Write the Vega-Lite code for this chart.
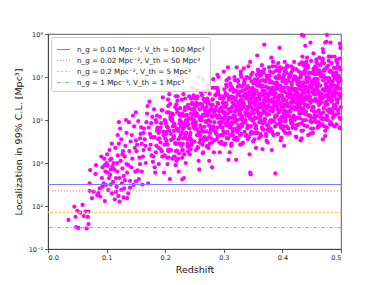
{
"$schema":"https://vega.github.io/schema/vega-lite/v6.json",
"width":293,"height":215,
"autosize":{"type":"none"},
"padding":{"left":48,"top":34,"right":38,"bottom":36},
"background":"white",
"config":{
"font":"DejaVu Sans",
"view":{"stroke":"#333","strokeWidth":0.8},
"axis":{"grid":false,"domainColor":"#333","domainWidth":0.8,"tickColor":"#333","tickWidth":0.8,"tickSize":3.5,"labelFontSize":6.5,"labelColor":"#222","titleFontSize":9.5,"titleFontWeight":"normal","titleColor":"#111","labelPadding":2},
"legend":{"orient":"top-left","offset":2.5,"padding":5,"fillColor":"rgba(255,255,255,0.85)","strokeColor":"#ccc","cornerRadius":2,"labelFontSize":7.2,"labelColor":"#222","symbolType":"stroke","symbolStrokeWidth":1.2,"symbolSize":169,"rowPadding":0,"labelOffset":6,"labelLimit":400}
},
"datasets":{
"lines":[
{"label":"n_g = 0.01 Mpc⁻³, V_th = 100 Mpc³","v":100},
{"label":"n_g = 0.02 Mpc⁻³, V_th = 50 Mpc³","v":50},
{"label":"n_g = 0.2 Mpc⁻³, V_th = 5 Mpc³","v":5},
{"label":"n_g = 1 Mpc⁻³, V_th = 1 Mpc³","v":1}
],
"pts":[
{"z":0.035,"v":2.24},{"z":0.045,"v":9.3},{"z":0.050,"v":5.9},{"z":0.047,"v":3.16},{"z":0.048,"v":1.05},{"z":0.052,"v":0.95},{"z":0.055,"v":4.9},{"z":0.059,"v":11.2},{"z":0.061,"v":3.4},{"z":0.064,"v":5.5},{"z":0.066,"v":0.91},{"z":0.069,"v":1.45},{"z":0.068,"v":3.1},{"z":0.069,"v":5.5},{"z":0.072,"v":468},{"z":0.071,"v":112},{"z":0.071,"v":51},{"z":0.075,"v":23},{"z":0.078,"v":47},{"z":0.082,"v":794},{"z":0.081,"v":309},{"z":0.084,"v":32},{"z":0.086,"v":40},{"z":0.088,"v":66},{"z":0.089,"v":27.5},{"z":0.095,"v":112},{"z":0.097,"v":17},{"z":0.098,"v":398},{"z":0.099,"v":95},{"z":0.100,"v":977},{"z":0.102,"v":741},{"z":0.103,"v":55},{"z":0.104,"v":200},{"z":0.109,"v":39},{"z":0.111,"v":132},{"z":0.114,"v":20.4},{"z":0.117,"v":78},{"z":0.120,"v":29.5},{"z":0.122,"v":15.8},{"z":0.126,"v":112},{"z":0.129,"v":25},{"z":0.130,"v":66},{"z":0.135,"v":23},{"z":0.137,"v":39},{"z":0.140,"v":148},{"z":0.146,"v":95},{"z":0.150,"v":141},
{"z":0.091,"v":2000},{"z":0.093,"v":631},{"z":0.096,"v":1585},{"z":0.092,"v":200},
{"z":0.105,"v":3981},{"z":0.107,"v":501},{"z":0.101,"v":2512},{"z":0.108,"v":1585},{"z":0.106,"v":282},{"z":0.109,"v":7943},
{"z":0.112,"v":1000},{"z":0.115,"v":5012},{"z":0.118,"v":398},{"z":0.119,"v":19953},{"z":0.119,"v":2239},{"z":0.116,"v":200},{"z":0.121,"v":79433},
{"z":0.121,"v":7943},{"z":0.124,"v":1259},{"z":0.127,"v":562},{"z":0.123,"v":39811},{"z":0.128,"v":3548},{"z":0.125,"v":12589},{"z":0.129,"v":251},
{"z":0.131,"v":1995},{"z":0.134,"v":25119},{"z":0.137,"v":794},{"z":0.132,"v":6310},{"z":0.138,"v":79433},{"z":0.135,"v":355},{"z":0.139,"v":3548},{"z":0.133,"v":100000},
{"z":0.141,"v":10000},{"z":0.144,"v":1585},{"z":0.147,"v":50119},{"z":0.142,"v":631},{"z":0.148,"v":5012},{"z":0.145,"v":158000},{"z":0.143,"v":20000},{"z":0.149,"v":398},
{"z":0.097,"v":794},{"z":0.106,"v":1413},{"z":0.113,"v":501},{"z":0.118,"v":1000},{"z":0.122,"v":200},{"z":0.127,"v":2512},{"z":0.131,"v":158},{"z":0.134,"v":891},{"z":0.102,"v":355},{"z":0.110,"v":708},{"z":0.093,"v":79},{"z":0.107,"v":100},{"z":0.125,"v":56},{"z":0.140,"v":71},{"z":0.116,"v":45},
{"z":0.150,"v":1.12e4},{"z":0.157,"v":890},{"z":0.154,"v":8.9e4},{"z":0.151,"v":3550},{"z":0.158,"v":2.24e4},{"z":0.155,"v":178},{"z":0.152,"v":7100},{"z":0.159,"v":4.5e4},{"z":0.156,"v":1780},{"z":0.153,"v":450},{"z":0.150,"v":2.24e5},{"z":0.157,"v":1.41e4},
{"z":0.163,"v":3980},{"z":0.160,"v":7940},{"z":0.167,"v":1000},{"z":0.164,"v":3.98e4},{"z":0.161,"v":100},{"z":0.168,"v":7.94e4},{"z":0.165,"v":1.26e4},{"z":0.162,"v":2000},{"z":0.169,"v":2e5},{"z":0.166,"v":6310},{"z":0.163,"v":2.51e4},{"z":0.160,"v":398},
{"z":0.176,"v":7.08e4},{"z":0.173,"v":4470},{"z":0.170,"v":4.47e5},{"z":0.177,"v":2240},{"z":0.174,"v":2.24e4},{"z":0.171,"v":112},{"z":0.178,"v":1.41e5},{"z":0.175,"v":7080},{"z":0.172,"v":4.47e4},{"z":0.179,"v":1120},{"z":0.176,"v":1.58e4},{"z":0.173,"v":7.08e5},
{"z":0.189,"v":5010},{"z":0.186,"v":3.16e4},{"z":0.183,"v":355},{"z":0.180,"v":1.58e4},{"z":0.187,"v":3.98e4},{"z":0.184,"v":3160},{"z":0.181,"v":3.16e5},{"z":0.188,"v":1.26e4},{"z":0.185,"v":7.94e4},{"z":0.182,"v":631},{"z":0.189,"v":2.51e4},{"z":0.186,"v":1.58e5},
{"z":0.192,"v":8910},{"z":0.199,"v":2240},{"z":0.196,"v":1.12e6},{"z":0.193,"v":7.08e4},{"z":0.190,"v":1.41e4},{"z":0.197,"v":2.82e4},{"z":0.194,"v":3550},{"z":0.191,"v":1.41e5},{"z":0.198,"v":355},{"z":0.195,"v":2.82e5},{"z":0.192,"v":4.47e4},{"z":0.199,"v":7080},
{"z":0.205,"v":8.91e5},{"z":0.202,"v":2.82e4},{"z":0.209,"v":1.12e5},{"z":0.206,"v":1780},{"z":0.203,"v":2.24e5},{"z":0.200,"v":1.41e4},{"z":0.207,"v":1.58e6},{"z":0.204,"v":7080},{"z":0.201,"v":7.08e4},{"z":0.208,"v":178},{"z":0.205,"v":4.47e5},{"z":0.202,"v":2.24e4},{"z":0.209,"v":1.41e5},{"z":0.206,"v":3550},{"z":0.203,"v":5.01e4},
{"z":0.218,"v":1.26e6},{"z":0.215,"v":1.78e4},{"z":0.212,"v":1.12e5},{"z":0.219,"v":1260},{"z":0.216,"v":5.62e4},{"z":0.213,"v":5.01e4},{"z":0.210,"v":3980},{"z":0.217,"v":3.98e5},{"z":0.214,"v":1.58e4},{"z":0.211,"v":1e5},{"z":0.218,"v":794},{"z":0.215,"v":3.16e4},{"z":0.212,"v":2e5},{"z":0.219,"v":7940},{"z":0.216,"v":2000},
{"z":0.221,"v":1.26e6},{"z":0.228,"v":7.94e4},{"z":0.225,"v":1.58e4},{"z":0.222,"v":3.16e4},{"z":0.229,"v":3980},{"z":0.226,"v":1.58e5},{"z":0.223,"v":398},{"z":0.220,"v":3.16e5},{"z":0.227,"v":5.01e4},{"z":0.224,"v":7940},{"z":0.221,"v":7.94e5},{"z":0.228,"v":2.51e4},{"z":0.225,"v":1e5},{"z":0.222,"v":1580},{"z":0.229,"v":2e5},
{"z":0.234,"v":1.58e4},{"z":0.231,"v":1.58e6},{"z":0.238,"v":7940},{"z":0.235,"v":7.94e4},{"z":0.232,"v":200},{"z":0.239,"v":5.01e5},{"z":0.236,"v":2.51e4},{"z":0.233,"v":1.58e5},{"z":0.230,"v":3980},{"z":0.237,"v":5.62e4},{"z":0.234,"v":1e6},{"z":0.231,"v":1.41e4},{"z":0.238,"v":8.91e4},{"z":0.235,"v":1000},{"z":0.232,"v":4.47e4},
{"z":0.247,"v":1.58e5},{"z":0.244,"v":1.26e4},{"z":0.241,"v":1.26e6},{"z":0.248,"v":5.01e4},{"z":0.245,"v":3.16e5},{"z":0.242,"v":2510},{"z":0.249,"v":1e5},{"z":0.246,"v":6.31e5},{"z":0.243,"v":2.51e4},{"z":0.240,"v":6310},{"z":0.247,"v":3.16e6},{"z":0.244,"v":2e5},{"z":0.241,"v":3.98e4},{"z":0.248,"v":7.94e4},{"z":0.245,"v":1e4},
{"z":0.250,"v":5.01e5},{"z":0.257,"v":1260},{"z":0.254,"v":1e6},{"z":0.251,"v":1.58e5},{"z":0.258,"v":2.51e4},{"z":0.255,"v":2.51e6},{"z":0.252,"v":7.94e4},{"z":0.259,"v":3.16e5},{"z":0.256,"v":5010},{"z":0.253,"v":6.31e5},{"z":0.250,"v":3.98e4},{"z":0.257,"v":1e7},{"z":0.254,"v":2e4},{"z":0.251,"v":2e5},{"z":0.258,"v":501},{"z":0.255,"v":1.26e6},{"z":0.252,"v":6.31e4},
{"z":0.263,"v":5.01e5},{"z":0.260,"v":1.26e4},{"z":0.267,"v":1.78e5},{"z":0.264,"v":7.94e6},{"z":0.261,"v":4.47e4},{"z":0.268,"v":2.82e5},{"z":0.265,"v":3160},{"z":0.262,"v":1.41e5},{"z":0.269,"v":1.58e5},{"z":0.266,"v":1.41e4},{"z":0.263,"v":1.41e6},{"z":0.260,"v":5.62e4},{"z":0.267,"v":3.55e5},{"z":0.264,"v":2820},{"z":0.261,"v":1.12e5},{"z":0.268,"v":7.08e5},{"z":0.265,"v":2.82e4},
{"z":0.276,"v":7940},{"z":0.273,"v":3.98e6},{"z":0.270,"v":2.51e5},{"z":0.277,"v":5.01e4},{"z":0.274,"v":1e5},{"z":0.271,"v":1.26e4},{"z":0.278,"v":5.01e5},{"z":0.275,"v":1260},{"z":0.272,"v":1e6},{"z":0.279,"v":1.58e5},{"z":0.276,"v":2.51e4},{"z":0.273,"v":2.51e6},{"z":0.270,"v":7.94e4},{"z":0.277,"v":3.16e5},{"z":0.274,"v":5010},{"z":0.271,"v":6.31e5},{"z":0.278,"v":3.98e4},
{"z":0.289,"v":1.26e7},{"z":0.286,"v":2.51e4},{"z":0.283,"v":2.51e5},{"z":0.280,"v":631},{"z":0.287,"v":1.58e6},{"z":0.284,"v":7.94e4},{"z":0.281,"v":5.01e5},{"z":0.288,"v":1.26e4},{"z":0.285,"v":1.78e5},{"z":0.282,"v":7.94e6},{"z":0.289,"v":4.47e4},{"z":0.286,"v":2.82e5},{"z":0.283,"v":3160},{"z":0.280,"v":1.41e5},{"z":0.287,"v":3.98e5},{"z":0.284,"v":3.16e4},{"z":0.281,"v":3.16e6},
{"z":0.292,"v":1.58e5},{"z":0.299,"v":1e6},{"z":0.296,"v":7940},{"z":0.293,"v":3.16e5},{"z":0.290,"v":2e6},{"z":0.297,"v":7.94e4},{"z":0.294,"v":2e4},{"z":0.291,"v":1e7},{"z":0.298,"v":6.31e5},{"z":0.295,"v":1.26e5},{"z":0.292,"v":2.51e5},{"z":0.299,"v":3.16e4},{"z":0.296,"v":1.26e6},{"z":0.293,"v":3160},{"z":0.290,"v":2.51e6},{"z":0.297,"v":3.98e5},{"z":0.294,"v":6.31e4},
{"z":0.305,"v":7.08e6},{"z":0.302,"v":2.24e5},{"z":0.309,"v":8.91e5},{"z":0.306,"v":1.41e4},{"z":0.303,"v":1.78e6},{"z":0.300,"v":1.12e5},{"z":0.307,"v":2.82e7},{"z":0.304,"v":5.62e4},{"z":0.301,"v":5.62e5},{"z":0.308,"v":1410},{"z":0.305,"v":3.55e6},{"z":0.302,"v":1.78e5},{"z":0.309,"v":1.12e6},{"z":0.306,"v":2.82e4},{"z":0.303,"v":3.98e5},{"z":0.300,"v":1.78e7},{"z":0.307,"v":1e5},{"z":0.304,"v":6.31e5},{"z":0.301,"v":7080},{"z":0.308,"v":3.16e5},
{"z":0.318,"v":5.01e5},{"z":0.315,"v":3.98e4},{"z":0.312,"v":3.98e6},{"z":0.319,"v":1.58e5},{"z":0.316,"v":1e6},{"z":0.313,"v":7940},{"z":0.310,"v":3.16e5},{"z":0.317,"v":2e6},{"z":0.314,"v":7.94e4},{"z":0.311,"v":2e4},{"z":0.318,"v":1e7},{"z":0.315,"v":6.31e5},{"z":0.312,"v":1.26e5},{"z":0.319,"v":2.51e5},{"z":0.316,"v":3.16e4},{"z":0.313,"v":1.26e6},{"z":0.310,"v":3160},{"z":0.317,"v":2.51e6},{"z":0.314,"v":3.98e5},{"z":0.311,"v":6.31e4},
{"z":0.321,"v":3.16e5},{"z":0.328,"v":7080},{"z":0.325,"v":6.31e5},{"z":0.322,"v":1e5},{"z":0.329,"v":1.78e7},{"z":0.326,"v":3.98e5},{"z":0.323,"v":2.82e4},{"z":0.320,"v":1.12e6},{"z":0.327,"v":1.78e5},{"z":0.324,"v":3.55e6},{"z":0.321,"v":1410},{"z":0.328,"v":5.62e5},{"z":0.325,"v":5.62e4},{"z":0.322,"v":2.82e7},{"z":0.329,"v":1.12e5},{"z":0.326,"v":1.78e6},{"z":0.323,"v":1.41e4},{"z":0.320,"v":8.91e5},{"z":0.327,"v":2.24e5},{"z":0.324,"v":7.08e6},
{"z":0.334,"v":1.26e6},{"z":0.337,"v":1e5},{"z":0.330,"v":1e7},{"z":0.333,"v":3.98e5},{"z":0.336,"v":2.51e6},{"z":0.339,"v":2e4},{"z":0.332,"v":7.94e5},{"z":0.335,"v":5.01e6},{"z":0.338,"v":2e5},{"z":0.331,"v":5.01e4},{"z":0.334,"v":2.51e7},{"z":0.337,"v":1.58e6},{"z":0.330,"v":3.16e5},{"z":0.333,"v":6.31e5},{"z":0.336,"v":7.94e4},{"z":0.339,"v":3.16e6},{"z":0.332,"v":7940},{"z":0.335,"v":6.31e6},{"z":0.338,"v":1e6},{"z":0.331,"v":1.58e5},
{"z":0.347,"v":6.31e6},{"z":0.340,"v":3.16e5},{"z":0.343,"v":2e6},{"z":0.346,"v":5.01e4},{"z":0.349,"v":7.08e5},{"z":0.342,"v":3.16e7},{"z":0.345,"v":1.78e5},{"z":0.348,"v":1.12e6},{"z":0.341,"v":1.26e4},{"z":0.344,"v":5.62e5},{"z":0.347,"v":1.26e7},{"z":0.340,"v":3.98e5},{"z":0.343,"v":1.58e6},{"z":0.346,"v":2.51e4},{"z":0.349,"v":3.16e6},{"z":0.342,"v":2e5},{"z":0.345,"v":5.01e7},{"z":0.348,"v":1e5},{"z":0.341,"v":1e6},{"z":0.344,"v":2510},
{"z":0.345,"v":355},{"z":0.346,"v":295},{"z":0.388,"v":330},{"z":0.229,"v":174},
{"z":0.351,"v":3.16e5},{"z":0.358,"v":3.98e6},{"z":0.355,"v":2.51e4},{"z":0.352,"v":1.58e6},{"z":0.359,"v":2e7},{"z":0.356,"v":1.26e5},{"z":0.353,"v":6.31e5},{"z":0.350,"v":1e4},{"z":0.357,"v":7.94e6},{"z":0.354,"v":1e6},{"z":0.351,"v":2e5},{"z":0.358,"v":5.01e6},{"z":0.355,"v":5010},{"z":0.352,"v":2.51e6},{"z":0.359,"v":3.98e5},{"z":0.356,"v":1.26e7},{"z":0.353,"v":6.31e4},{"z":0.350,"v":1.26e6},{"z":0.357,"v":1e8},{"z":0.354,"v":3.98e4},
{"z":0.366,"v":2.24e6},{"z":0.369,"v":5.62e5},{"z":0.362,"v":1.12e5},{"z":0.365,"v":3.55e7},{"z":0.368,"v":2.82e5},{"z":0.361,"v":8.91e5},{"z":0.364,"v":1.78e4},{"z":0.367,"v":7.08e6},{"z":0.360,"v":1.78e5},{"z":0.363,"v":3.55e6},{"z":0.366,"v":4470},{"z":0.369,"v":7.94e5},{"z":0.362,"v":1.12e7},{"z":0.365,"v":8.91e4},{"z":0.368,"v":1.58e6},{"z":0.361,"v":3.98e5},{"z":0.364,"v":1.78e7},{"z":0.367,"v":3.55e4},{"z":0.360,"v":1e6},{"z":0.363,"v":1.58e5},{"z":0.369,"v":3.2e8},
{"z":0.374,"v":1.78e5},{"z":0.371,"v":1.12e6},{"z":0.378,"v":7.08e6},{"z":0.375,"v":8910},{"z":0.372,"v":3.55e6},{"z":0.379,"v":8.91e4},{"z":0.376,"v":7.08e5},{"z":0.373,"v":3.55e5},{"z":0.370,"v":1.78e6},{"z":0.377,"v":2.82e7},{"z":0.374,"v":5.62e4},{"z":0.371,"v":2.24e5},{"z":0.378,"v":5.62e6},{"z":0.375,"v":8.91e5},{"z":0.372,"v":2.24e4},{"z":0.379,"v":2.82e6},{"z":0.376,"v":4.47e5},{"z":0.373,"v":1.12e7},{"z":0.370,"v":1.12e5},{"z":0.377,"v":1.41e6},
{"z":0.382,"v":8.91e5},{"z":0.385,"v":2e4},{"z":0.388,"v":1.78e6},{"z":0.381,"v":2.82e5},{"z":0.384,"v":5.01e7},{"z":0.387,"v":1.12e6},{"z":0.380,"v":7.94e4},{"z":0.383,"v":3.16e6},{"z":0.386,"v":5.01e5},{"z":0.389,"v":1e7},{"z":0.382,"v":3980},{"z":0.385,"v":1.58e6},{"z":0.388,"v":1.58e5},{"z":0.381,"v":7.94e7},{"z":0.384,"v":3.16e5},{"z":0.387,"v":5.01e6},{"z":0.380,"v":3.98e4},{"z":0.383,"v":2.51e6},{"z":0.386,"v":6.31e5},{"z":0.389,"v":2e7},
{"z":0.398,"v":8.91e4},{"z":0.395,"v":2.24e8},{"z":0.392,"v":2.82e6},{"z":0.399,"v":1.41e5},{"z":0.396,"v":2.82e7},{"z":0.393,"v":8.91e5},{"z":0.390,"v":5.62e6},{"z":0.397,"v":1.12e4},{"z":0.394,"v":1.12e7},{"z":0.391,"v":4.47e5},{"z":0.398,"v":2.24e6},{"z":0.395,"v":1.78e7},{"z":0.392,"v":2.24e4},{"z":0.399,"v":1.41e6},{"z":0.396,"v":2.82e5},{"z":0.393,"v":4.47e7},{"z":0.390,"v":3.55e6},{"z":0.397,"v":5.62e4},{"z":0.394,"v":8.91e6},{"z":0.391,"v":7.08e5},
{"z":0.403,"v":3.16e6},{"z":0.400,"v":7.94e5},{"z":0.407,"v":1.58e5},{"z":0.404,"v":5.01e7},{"z":0.401,"v":3.98e5},{"z":0.408,"v":1.26e6},{"z":0.405,"v":2.51e4},{"z":0.402,"v":1e7},{"z":0.409,"v":2.51e5},{"z":0.406,"v":5.01e6},{"z":0.403,"v":6310},{"z":0.400,"v":1.12e6},{"z":0.407,"v":1.58e7},{"z":0.404,"v":1.26e5},{"z":0.401,"v":2.24e6},{"z":0.408,"v":5.62e5},{"z":0.405,"v":2.51e7},{"z":0.402,"v":5.01e4},{"z":0.409,"v":1.41e6},{"z":0.406,"v":2.24e5},{"z":0.403,"v":5.01e5},{"z":0.400,"v":6.31e6},
{"z":0.415,"v":2.51e6},{"z":0.418,"v":7.94e5},{"z":0.411,"v":1.58e6},{"z":0.414,"v":1e5},{"z":0.417,"v":6.31e5},{"z":0.410,"v":6.31e6},{"z":0.413,"v":2e6},{"z":0.416,"v":1e6},{"z":0.419,"v":7.94e6},{"z":0.412,"v":2.51e5},{"z":0.415,"v":1.58e7},{"z":0.418,"v":1.26e5},{"z":0.411,"v":4.47e5},{"z":0.414,"v":1.41e6},{"z":0.417,"v":2e7},{"z":0.410,"v":3.98e4},{"z":0.413,"v":3.98e5},{"z":0.416,"v":3.16e6},{"z":0.419,"v":1.58e5},{"z":0.412,"v":1.26e7},{"z":0.415,"v":3.16e7},{"z":0.418,"v":6.31e4},
{"z":0.429,"v":2e5},{"z":0.426,"v":5.01e6},{"z":0.423,"v":1e7},{"z":0.420,"v":5.01e7},{"z":0.427,"v":1.26e6},{"z":0.424,"v":1.58e4},{"z":0.421,"v":3.16e5},{"z":0.428,"v":3.98e6},{"z":0.425,"v":5.01e5},{"z":0.422,"v":2.51e6},{"z":0.429,"v":7.94e5},{"z":0.426,"v":1.78e6},{"z":0.423,"v":2.82e6},{"z":0.420,"v":2.51e6},{"z":0.427,"v":7.94e5},{"z":0.424,"v":1.58e6},{"z":0.421,"v":1e5},{"z":0.428,"v":6.31e5},{"z":0.425,"v":6.31e6},{"z":0.422,"v":2e6},{"z":0.429,"v":1e6},{"z":0.426,"v":7.94e6},
{"z":0.431,"v":8.91e5},{"z":0.434,"v":4.47e6},{"z":0.437,"v":1.78e6},{"z":0.430,"v":2.82e6},{"z":0.433,"v":1.41e4},{"z":0.436,"v":3.55e7},{"z":0.439,"v":2.82e8},{"z":0.432,"v":1.41e6},{"z":0.435,"v":7.08e5},{"z":0.438,"v":1.78e7},{"z":0.431,"v":1.12e4},{"z":0.434,"v":2.24e5},{"z":0.437,"v":4.47e7},{"z":0.430,"v":3.98e5},{"z":0.433,"v":7.08e4},{"z":0.436,"v":3.55e5},{"z":0.439,"v":2.24e7},{"z":0.432,"v":1.41e7},{"z":0.435,"v":1.12e6},{"z":0.438,"v":3.55e6},{"z":0.431,"v":5.62e6},{"z":0.434,"v":8.91e7},{"z":0.433,"v":9e8},{"z":0.436,"v":8.5e8},
{"z":0.445,"v":1.58e7},{"z":0.442,"v":7.94e7},{"z":0.449,"v":3.98e4},{"z":0.446,"v":7.94e5},{"z":0.443,"v":1e7},{"z":0.440,"v":2.51e5},{"z":0.447,"v":1.58e5},{"z":0.444,"v":3.98e5},{"z":0.441,"v":3.16e6},{"z":0.448,"v":6.31e5},{"z":0.445,"v":2.82e6},{"z":0.442,"v":5.62e6},{"z":0.449,"v":1.26e5},{"z":0.446,"v":1.26e6},{"z":0.443,"v":6.31e6},{"z":0.440,"v":2.51e6},{"z":0.447,"v":3.98e6},{"z":0.444,"v":2e4},{"z":0.441,"v":5.01e7},{"z":0.448,"v":3.98e8},{"z":0.445,"v":2e6},{"z":0.442,"v":1e6},
{"z":0.458,"v":3.98e6},{"z":0.451,"v":1.58e7},{"z":0.454,"v":2.51e5},{"z":0.457,"v":1.58e6},{"z":0.450,"v":4.47e6},{"z":0.453,"v":1.26e8},{"z":0.456,"v":3.16e7},{"z":0.459,"v":1.58e5},{"z":0.452,"v":2.51e4},{"z":0.455,"v":1e5},{"z":0.458,"v":2.51e7},{"z":0.451,"v":4.47e6},{"z":0.454,"v":7.94e6},{"z":0.457,"v":5.01e6},{"z":0.450,"v":3.16e6},{"z":0.453,"v":7.94e5},{"z":0.456,"v":7.94e6},{"z":0.459,"v":2.24e6},{"z":0.452,"v":2.51e6},{"z":0.455,"v":2e6},{"z":0.458,"v":5.01e7},{"z":0.451,"v":3.98e5},
{"z":0.466,"v":1.26e6},{"z":0.463,"v":7.94e7},{"z":0.460,"v":2e7},{"z":0.467,"v":1.26e7},{"z":0.464,"v":1.41e6},{"z":0.461,"v":5.01e4},{"z":0.468,"v":6.31e4},{"z":0.465,"v":1e6},{"z":0.462,"v":5.01e5},{"z":0.469,"v":2e8},{"z":0.466,"v":2e5},{"z":0.463,"v":2e6},{"z":0.460,"v":7.94e6},{"z":0.467,"v":1.26e5},{"z":0.464,"v":7.94e5},{"z":0.461,"v":2.24e6},{"z":0.468,"v":6.31e7},{"z":0.465,"v":1.58e7},{"z":0.462,"v":7.94e4},{"z":0.469,"v":1.26e4},{"z":0.466,"v":5.62e4},{"z":0.463,"v":1.41e7},
{"z":0.473,"v":1.41e6},{"z":0.476,"v":4.47e4},{"z":0.479,"v":1.78e6},{"z":0.472,"v":2.24e6},{"z":0.475,"v":7.08e5},{"z":0.478,"v":1.58e6},{"z":0.471,"v":1.12e5},{"z":0.474,"v":4.47e6},{"z":0.477,"v":2.82e5},{"z":0.470,"v":1.41e8},{"z":0.473,"v":1.78e4},{"z":0.476,"v":1.41e5},{"z":0.479,"v":8.91e7},{"z":0.472,"v":2.24e7},{"z":0.475,"v":4.47e8},{"z":0.478,"v":3.55e6},{"z":0.471,"v":4.47e7},{"z":0.474,"v":6.31e5},{"z":0.477,"v":2.82e6},{"z":0.470,"v":1.12e7},{"z":0.473,"v":8.91e6},{"z":0.476,"v":2.82e7},{"z":0.476,"v":9e8},{"z":0.473,"v":4e8},
{"z":0.482,"v":2e7},{"z":0.489,"v":2.51e6},{"z":0.486,"v":1.58e7},{"z":0.483,"v":3.16e6},{"z":0.480,"v":8.91e6},{"z":0.487,"v":1.12e7},{"z":0.484,"v":1.58e6},{"z":0.481,"v":6.31e4},{"z":0.488,"v":5.01e5},{"z":0.485,"v":2e5},{"z":0.482,"v":1e6},{"z":0.489,"v":3.98e6},{"z":0.486,"v":1.26e5},{"z":0.483,"v":5.01e6},{"z":0.480,"v":6.31e6},{"z":0.487,"v":2e6},{"z":0.484,"v":4.47e6},{"z":0.481,"v":3.16e5},{"z":0.488,"v":1.26e7},{"z":0.485,"v":7.94e5},{"z":0.482,"v":3.98e8},{"z":0.489,"v":5.01e4},
{"z":0.499,"v":1.12e5},{"z":0.492,"v":1.78e6},{"z":0.495,"v":8.91e5},{"z":0.498,"v":3.55e8},{"z":0.491,"v":3.55e5},{"z":0.494,"v":7.08e6},{"z":0.497,"v":2.82e7},{"z":0.490,"v":4.47e5},{"z":0.493,"v":2.82e6},{"z":0.496,"v":7.94e6},{"z":0.499,"v":2.24e8},{"z":0.492,"v":5.62e7},{"z":0.495,"v":2.82e5},{"z":0.498,"v":4.47e4},{"z":0.491,"v":1.78e5},{"z":0.494,"v":4.47e7},{"z":0.497,"v":8.91e6},{"z":0.490,"v":1.41e7},{"z":0.493,"v":1e7},{"z":0.496,"v":5.62e6},{"z":0.499,"v":1.41e6},{"z":0.492,"v":1.58e7},
{"z":0.180,"v":2000},{"z":0.182,"v":1.58e4},{"z":0.184,"v":1e5},{"z":0.185,"v":6310},{"z":0.187,"v":4.47e4},{"z":0.189,"v":891},{"z":0.190,"v":3.55e4},{"z":0.192,"v":4470},{"z":0.194,"v":2.82e5},{"z":0.195,"v":2000},{"z":0.197,"v":2e4},{"z":0.199,"v":1e5},{"z":0.200,"v":9.1e4},{"z":0.202,"v":1.12e4},{"z":0.204,"v":891},{"z":0.205,"v":4070},{"z":0.207,"v":3.24e4},{"z":0.209,"v":2.04e5},{"z":0.210,"v":1.17e4},{"z":0.212,"v":9.3e4},{"z":0.214,"v":1860},{"z":0.215,"v":6.76e4},{"z":0.217,"v":8500},{"z":0.219,"v":5.37e5},{"z":0.220,"v":3800},{"z":0.222,"v":3.8e4},{"z":0.224,"v":1.9e5},{"z":0.225,"v":1.74e5},{"z":0.227,"v":2.19e4},{"z":0.229,"v":1740},{"z":0.230,"v":7760},{"z":0.232,"v":6.17e4},{"z":0.234,"v":3.89e5},{"z":0.235,"v":2.19e4},{"z":0.237,"v":1.74e5},{"z":0.239,"v":3470},{"z":0.240,"v":1.23e5},{"z":0.242,"v":1.55e4},{"z":0.244,"v":9.77e5},{"z":0.245,"v":6920},{"z":0.247,"v":6.92e4},{"z":0.249,"v":3.47e5},
{"z":0.250,"v":9770},{"z":0.252,"v":4.9e4},{"z":0.254,"v":1.95e5},{"z":0.251,"v":9.77e5},{"z":0.255,"v":5500},{"z":0.257,"v":2.75e4},{"z":0.259,"v":1.1e5},{"z":0.256,"v":5.5e5},{"z":0.260,"v":1.91e4},{"z":0.262,"v":9.55e4},{"z":0.264,"v":3.8e5},{"z":0.261,"v":1.91e6},{"z":0.265,"v":1.07e4},{"z":0.267,"v":4.79e4},{"z":0.269,"v":1.91e5},{"z":0.266,"v":9.55e5},{"z":0.270,"v":2.95e4},{"z":0.272,"v":1.66e5},{"z":0.274,"v":5.89e5},{"z":0.271,"v":5890},{"z":0.275,"v":1.66e4},{"z":0.277,"v":8.3e4},{"z":0.279,"v":3.31e5},{"z":0.276,"v":1.66e6},{"z":0.280,"v":9100},{"z":0.282,"v":4.57e4},{"z":0.284,"v":1.82e5},{"z":0.281,"v":9.1e5},{"z":0.285,"v":3.16e4},{"z":0.287,"v":1.58e5},{"z":0.289,"v":6.31e5},{"z":0.286,"v":3.16e6},{"z":0.290,"v":1.74e4},{"z":0.292,"v":7.76e4},{"z":0.294,"v":3.09e5},{"z":0.291,"v":1.55e6},{"z":0.295,"v":4.79e4},{"z":0.297,"v":2.69e5},{"z":0.299,"v":9.55e5},{"z":0.296,"v":9550},
{"z":0.300,"v":2.63e4},{"z":0.302,"v":1.32e5},{"z":0.304,"v":5.25e5},{"z":0.301,"v":2.63e6},{"z":0.305,"v":1.45e4},{"z":0.307,"v":7.24e4},{"z":0.309,"v":2.88e5},{"z":0.306,"v":1.45e6},{"z":0.310,"v":5.01e4},{"z":0.312,"v":2.51e5},{"z":0.314,"v":1e6},{"z":0.311,"v":5.01e6},{"z":0.315,"v":2.75e4},{"z":0.317,"v":1.23e5},{"z":0.319,"v":4.9e5},{"z":0.316,"v":2.45e6},{"z":0.320,"v":7.59e4},{"z":0.322,"v":4.27e5},{"z":0.324,"v":1.51e6},{"z":0.321,"v":1.51e4},{"z":0.325,"v":4.17e4},{"z":0.327,"v":2.09e5},{"z":0.329,"v":8.32e5},{"z":0.326,"v":4.17e6},{"z":0.330,"v":2.24e4},{"z":0.332,"v":1.12e5},{"z":0.334,"v":4.47e5},{"z":0.331,"v":2.24e6},{"z":0.335,"v":7.76e4},{"z":0.337,"v":3.89e5},{"z":0.339,"v":1.55e6},{"z":0.336,"v":7.76e6},{"z":0.340,"v":4.17e4},{"z":0.342,"v":1.86e5},{"z":0.344,"v":7.41e5},{"z":0.341,"v":3.72e6},{"z":0.345,"v":1.15e5},{"z":0.347,"v":6.46e5},{"z":0.349,"v":2.29e6},{"z":0.346,"v":2.29e4},
{"z":0.350,"v":2.45e4},{"z":0.352,"v":1.23e5},{"z":0.354,"v":4.9e5},{"z":0.351,"v":1.95e6},{"z":0.353,"v":7.76e6},{"z":0.355,"v":5.37e4},{"z":0.357,"v":2.69e5},{"z":0.359,"v":1.07e6},{"z":0.356,"v":4.27e6},{"z":0.358,"v":2.14e7},{"z":0.360,"v":1.45e4},{"z":0.362,"v":9.12e4},{"z":0.364,"v":4.07e5},{"z":0.361,"v":1.62e6},{"z":0.363,"v":6.46e6},{"z":0.365,"v":4.37e4},{"z":0.367,"v":2.19e5},{"z":0.369,"v":8.71e5},{"z":0.366,"v":3.47e6},{"z":0.368,"v":1.55e7},{"z":0.370,"v":7.59e4},{"z":0.372,"v":4.27e5},{"z":0.374,"v":1.7e6},{"z":0.371,"v":6.76e6},{"z":0.373,"v":1.07e4},{"z":0.375,"v":3.63e4},{"z":0.377,"v":1.82e5},{"z":0.379,"v":7.24e5},{"z":0.376,"v":2.88e6},{"z":0.378,"v":1.15e7},{"z":0.380,"v":7.76e4},{"z":0.382,"v":3.89e5},{"z":0.384,"v":1.55e6},{"z":0.381,"v":6.17e6},{"z":0.383,"v":3.09e7},{"z":0.385,"v":2.09e4},{"z":0.387,"v":1.32e5},{"z":0.389,"v":5.89e5},{"z":0.386,"v":2.34e6},{"z":0.388,"v":9.33e6},{"z":0.390,"v":6.31e4},{"z":0.392,"v":3.16e5},{"z":0.394,"v":1.26e6},{"z":0.391,"v":5.01e6},{"z":0.393,"v":2.24e7},{"z":0.395,"v":1.07e5},{"z":0.397,"v":6.03e5},{"z":0.399,"v":2.4e6},{"z":0.396,"v":9.55e6},{"z":0.398,"v":1.51e4},
{"z":0.400,"v":4.07e4},{"z":0.402,"v":2.04e5},{"z":0.404,"v":8.13e5},{"z":0.401,"v":3.24e6},{"z":0.403,"v":1.29e7},{"z":0.405,"v":8.71e4},{"z":0.407,"v":4.37e5},{"z":0.409,"v":1.74e6},{"z":0.406,"v":6.92e6},{"z":0.408,"v":3.47e7},{"z":0.410,"v":2.34e4},{"z":0.412,"v":1.48e5},{"z":0.414,"v":6.61e5},{"z":0.411,"v":2.63e6},{"z":0.413,"v":1.05e7},{"z":0.415,"v":7.08e4},{"z":0.417,"v":3.55e5},{"z":0.419,"v":1.41e6},{"z":0.416,"v":5.62e6},{"z":0.418,"v":2.51e7},{"z":0.420,"v":1.2e5},{"z":0.422,"v":6.76e5},{"z":0.424,"v":2.69e6},{"z":0.421,"v":1.07e7},{"z":0.423,"v":1.7e4},{"z":0.425,"v":5.75e4},{"z":0.427,"v":2.88e5},{"z":0.429,"v":1.15e6},{"z":0.426,"v":4.57e6},{"z":0.428,"v":1.82e7},{"z":0.430,"v":1.2e5},{"z":0.432,"v":6.03e5},{"z":0.434,"v":2.4e6},{"z":0.431,"v":9.55e6},{"z":0.433,"v":4.79e7},{"z":0.435,"v":3.24e4},{"z":0.437,"v":2.04e5},{"z":0.439,"v":9.12e5},{"z":0.436,"v":3.63e6},{"z":0.438,"v":1.45e7},{"z":0.440,"v":9.77e4},{"z":0.442,"v":4.9e5},{"z":0.444,"v":1.95e6},{"z":0.441,"v":7.76e6},{"z":0.443,"v":3.47e7},{"z":0.445,"v":1.66e5},{"z":0.447,"v":9.33e5},{"z":0.449,"v":3.72e6},{"z":0.446,"v":1.48e7},{"z":0.448,"v":2.34e4},
{"z":0.450,"v":7.76e4},{"z":0.452,"v":3.89e5},{"z":0.454,"v":1.55e6},{"z":0.451,"v":6.17e6},{"z":0.453,"v":2.45e7},{"z":0.455,"v":1.66e5},{"z":0.457,"v":8.32e5},{"z":0.459,"v":3.31e6},{"z":0.456,"v":1.32e7},{"z":0.458,"v":6.61e7},{"z":0.460,"v":4.47e4},{"z":0.462,"v":2.82e5},{"z":0.464,"v":1.26e6},{"z":0.461,"v":5.01e6},{"z":0.463,"v":2e7},{"z":0.465,"v":1.32e5},{"z":0.467,"v":6.61e5},{"z":0.469,"v":2.63e6},{"z":0.466,"v":1.05e7},{"z":0.468,"v":4.68e7},{"z":0.470,"v":2.24e5},{"z":0.472,"v":1.26e6},{"z":0.474,"v":5.01e6},{"z":0.471,"v":2e7},{"z":0.473,"v":3.16e4},{"z":0.475,"v":1.05e5},{"z":0.477,"v":5.25e5},{"z":0.479,"v":2.09e6},{"z":0.476,"v":8.32e6},{"z":0.478,"v":3.31e7},{"z":0.480,"v":2.24e5},{"z":0.482,"v":1.12e6},{"z":0.484,"v":4.47e6},{"z":0.481,"v":1.78e7},{"z":0.483,"v":8.91e7},{"z":0.485,"v":5.89e4},{"z":0.487,"v":3.72e5},{"z":0.489,"v":1.66e6},{"z":0.486,"v":6.61e6},{"z":0.488,"v":2.63e7},{"z":0.490,"v":1.78e5},{"z":0.492,"v":8.91e5},{"z":0.494,"v":3.55e6},{"z":0.491,"v":1.41e7},{"z":0.493,"v":6.31e7},{"z":0.495,"v":2.95e5},{"z":0.497,"v":1.66e6},{"z":0.499,"v":6.61e6},{"z":0.496,"v":2.63e7},{"z":0.498,"v":4.17e4},
{"z":0.2025,"v":7940},{"z":0.2045,"v":4.47e4},{"z":0.2055,"v":2.24e5},{"z":0.2035,"v":1780},{"z":0.2075,"v":3980},{"z":0.2095,"v":2.24e4},{"z":0.2105,"v":1e5},{"z":0.2085,"v":5.62e5},{"z":0.2125,"v":1580},{"z":0.2145,"v":1.41e4},{"z":0.2155,"v":6.31e4},{"z":0.2135,"v":1.78e5},{"z":0.2175,"v":7940},{"z":0.2195,"v":3.98e4},{"z":0.2205,"v":2.24e5},{"z":0.2185,"v":3550},{"z":0.2225,"v":1.26e4},{"z":0.2245,"v":7.08e4},{"z":0.2255,"v":3.55e5},{"z":0.2235,"v":2820},{"z":0.2275,"v":6310},{"z":0.2295,"v":3.55e4},{"z":0.2305,"v":1.58e5},{"z":0.2285,"v":8.91e5},{"z":0.2325,"v":2510},{"z":0.2345,"v":2.24e4},{"z":0.2355,"v":1e5},{"z":0.2335,"v":2.82e5},{"z":0.2375,"v":1.26e4},{"z":0.2395,"v":6.31e4},{"z":0.2405,"v":3.55e5},{"z":0.2385,"v":5620},{"z":0.2425,"v":2e4},{"z":0.2445,"v":1.12e5},{"z":0.2455,"v":5.62e5},{"z":0.2435,"v":4470},{"z":0.2475,"v":1e4},{"z":0.2495,"v":5.62e4},{"z":0.2505,"v":2.51e5},{"z":0.2485,"v":1.41e6},
{"z":0.2525,"v":3980},{"z":0.2545,"v":3.55e4},{"z":0.2555,"v":1.58e5},{"z":0.2535,"v":4.47e5},{"z":0.2575,"v":2e4},{"z":0.2595,"v":1e5},{"z":0.2605,"v":5.62e5},{"z":0.2585,"v":8910},{"z":0.2625,"v":3.16e4},{"z":0.2645,"v":1.78e5},{"z":0.2655,"v":8.91e5},{"z":0.2635,"v":7080},{"z":0.2675,"v":1.58e4},{"z":0.2695,"v":8.91e4},{"z":0.2705,"v":3.98e5},{"z":0.2685,"v":2.24e6},{"z":0.2725,"v":6310},{"z":0.2745,"v":5.62e4},{"z":0.2755,"v":2.51e5},{"z":0.2735,"v":7.08e5},{"z":0.2775,"v":3.16e4},{"z":0.2795,"v":1.58e5},{"z":0.2805,"v":8.91e5},{"z":0.2785,"v":1.41e4},{"z":0.2825,"v":5.01e4},{"z":0.2845,"v":2.82e5},{"z":0.2855,"v":1.41e6},{"z":0.2835,"v":1.12e4},{"z":0.2875,"v":2.24e4},{"z":0.2895,"v":1.26e5},{"z":0.2905,"v":5.62e5},{"z":0.2885,"v":3.16e6},{"z":0.2925,"v":8910},{"z":0.2945,"v":7.94e4},{"z":0.2955,"v":3.55e5},{"z":0.2935,"v":1e6},{"z":0.2975,"v":4.47e4},{"z":0.2995,"v":2.24e5},{"z":0.3005,"v":1.26e6},{"z":0.2985,"v":2e4},
{"z":0.3025,"v":7940},{"z":0.3055,"v":2.51e4},{"z":0.3035,"v":7.08e4},{"z":0.3065,"v":2e5},{"z":0.3045,"v":5.01e5},{"z":0.3060,"v":1.41e6},{"z":0.3040,"v":4.47e6},
{"z":0.3075,"v":1.41e4},{"z":0.3105,"v":4.47e4},{"z":0.3085,"v":1.26e5},{"z":0.3115,"v":3.16e5},{"z":0.3095,"v":8.91e5},{"z":0.3110,"v":2.51e6},{"z":0.3090,"v":8.91e6},
{"z":0.3125,"v":6310},{"z":0.3155,"v":2e4},{"z":0.3135,"v":6.31e4},{"z":0.3165,"v":1.58e5},{"z":0.3145,"v":3.98e5},{"z":0.3160,"v":1.12e6},{"z":0.3140,"v":3.16e6},
{"z":0.3175,"v":1.26e4},{"z":0.3205,"v":3.98e4},{"z":0.3185,"v":1.12e5},{"z":0.3215,"v":2.82e5},{"z":0.3195,"v":7.94e5},{"z":0.3210,"v":2.24e6},{"z":0.3190,"v":7.08e6},
{"z":0.3225,"v":1.12e4},{"z":0.3255,"v":3.55e4},{"z":0.3235,"v":1e5},{"z":0.3265,"v":2.82e5},{"z":0.3245,"v":7.08e5},{"z":0.3260,"v":2e6},{"z":0.3240,"v":6.31e6},
{"z":0.3275,"v":2e4},{"z":0.3305,"v":6.31e4},{"z":0.3285,"v":1.78e5},{"z":0.3315,"v":4.47e5},{"z":0.3295,"v":1.26e6},{"z":0.3310,"v":3.55e6},{"z":0.3290,"v":1.26e7},
{"z":0.3325,"v":8910},{"z":0.3355,"v":2.82e4},{"z":0.3335,"v":8.91e4},{"z":0.3365,"v":2.24e5},{"z":0.3345,"v":5.62e5},{"z":0.3360,"v":1.58e6},{"z":0.3340,"v":4.47e6},
{"z":0.3375,"v":1.78e4},{"z":0.3405,"v":5.62e4},{"z":0.3385,"v":1.58e5},{"z":0.3415,"v":3.98e5},{"z":0.3395,"v":1.12e6},{"z":0.3410,"v":3.16e6},{"z":0.3390,"v":1e7},
{"z":0.3425,"v":1.58e4},{"z":0.3455,"v":5.01e4},{"z":0.3435,"v":1.41e5},{"z":0.3465,"v":3.98e5},{"z":0.3445,"v":1e6},{"z":0.3460,"v":2.82e6},{"z":0.3440,"v":8.91e6},
{"z":0.3475,"v":2.82e4},{"z":0.3505,"v":8.91e4},{"z":0.3485,"v":2.51e5},{"z":0.3515,"v":6.31e5},{"z":0.3495,"v":1.58e6},{"z":0.3510,"v":5.01e6},{"z":0.3490,"v":1.58e7},
{"z":0.3525,"v":1.26e4},{"z":0.3555,"v":3.98e4},{"z":0.3535,"v":1.26e5},{"z":0.3565,"v":3.16e5},{"z":0.3545,"v":7.94e5},{"z":0.3560,"v":2.24e6},{"z":0.3540,"v":6.31e6},
{"z":0.3575,"v":2.51e4},{"z":0.3605,"v":7.94e4},{"z":0.3585,"v":2.24e5},{"z":0.3615,"v":5.62e5},{"z":0.3595,"v":1.58e6},{"z":0.3610,"v":4.47e6},{"z":0.3590,"v":1.41e7},
{"z":0.3625,"v":2.24e4},{"z":0.3655,"v":7.08e4},{"z":0.3635,"v":2e5},{"z":0.3665,"v":5.62e5},{"z":0.3645,"v":1.41e6},{"z":0.3660,"v":3.98e6},{"z":0.3640,"v":1.26e7},
{"z":0.3675,"v":3.55e4},{"z":0.3705,"v":1.12e5},{"z":0.3685,"v":3.16e5},{"z":0.3715,"v":7.94e5},{"z":0.3695,"v":2.24e6},{"z":0.3710,"v":6.31e6},{"z":0.3690,"v":2.24e7},
{"z":0.3725,"v":1.78e4},{"z":0.3755,"v":5.62e4},{"z":0.3735,"v":1.78e5},{"z":0.3765,"v":4.47e5},{"z":0.3745,"v":1.12e6},{"z":0.3760,"v":3.16e6},{"z":0.3740,"v":8.91e6},
{"z":0.3775,"v":3.16e4},{"z":0.3805,"v":1e5},{"z":0.3785,"v":2.82e5},{"z":0.3815,"v":7.08e5},{"z":0.3795,"v":2e6},{"z":0.3810,"v":5.62e6},{"z":0.3790,"v":1.78e7},
{"z":0.3825,"v":2.82e4},{"z":0.3855,"v":8.91e4},{"z":0.3835,"v":2.51e5},{"z":0.3865,"v":7.08e5},{"z":0.3845,"v":1.78e6},{"z":0.3860,"v":5.01e6},{"z":0.3840,"v":1.58e7},
{"z":0.3875,"v":5.01e4},{"z":0.3905,"v":1.58e5},{"z":0.3885,"v":4.47e5},{"z":0.3915,"v":1.12e6},{"z":0.3895,"v":3.16e6},{"z":0.3910,"v":8.91e6},{"z":0.3890,"v":3.16e7},
{"z":0.3925,"v":2.24e4},{"z":0.3955,"v":7.08e4},{"z":0.3935,"v":2.24e5},{"z":0.3965,"v":5.62e5},{"z":0.3945,"v":1.41e6},{"z":0.3960,"v":3.98e6},{"z":0.3940,"v":1.12e7},
{"z":0.3975,"v":4.47e4},{"z":0.4005,"v":1.41e5},{"z":0.3985,"v":3.98e5},{"z":0.4015,"v":1e6},{"z":0.3995,"v":2.82e6},{"z":0.4010,"v":7.94e6},{"z":0.3990,"v":2.51e7},
{"z":0.4025,"v":3.16e4},{"z":0.4055,"v":1e5},{"z":0.4035,"v":2.82e5},{"z":0.4065,"v":7.94e5},{"z":0.4045,"v":2e6},{"z":0.4060,"v":5.62e6},{"z":0.4040,"v":1.78e7},
{"z":0.4075,"v":5.01e4},{"z":0.4105,"v":1.58e5},{"z":0.4085,"v":4.47e5},{"z":0.4115,"v":1.12e6},{"z":0.4095,"v":3.16e6},{"z":0.4110,"v":8.91e6},{"z":0.4090,"v":3.16e7},
{"z":0.4125,"v":2.51e4},{"z":0.4155,"v":7.94e4},{"z":0.4135,"v":2.51e5},{"z":0.4165,"v":6.31e5},{"z":0.4145,"v":1.58e6},{"z":0.4160,"v":4.47e6},{"z":0.4140,"v":1.26e7},
{"z":0.4175,"v":4.47e4},{"z":0.4205,"v":1.41e5},{"z":0.4185,"v":3.98e5},{"z":0.4215,"v":1e6},{"z":0.4195,"v":2.82e6},{"z":0.4210,"v":7.94e6},{"z":0.4190,"v":2.51e7},
{"z":0.4225,"v":3.98e4},{"z":0.4255,"v":1.26e5},{"z":0.4235,"v":3.55e5},{"z":0.4265,"v":1e6},{"z":0.4245,"v":2.51e6},{"z":0.4260,"v":7.08e6},{"z":0.4240,"v":2.24e7},
{"z":0.4275,"v":6.31e4},{"z":0.4305,"v":2e5},{"z":0.4285,"v":5.62e5},{"z":0.4315,"v":1.41e6},{"z":0.4295,"v":3.98e6},{"z":0.4310,"v":1.12e7},{"z":0.4290,"v":3.98e7},
{"z":0.4325,"v":3.16e4},{"z":0.4355,"v":1e5},{"z":0.4335,"v":3.16e5},{"z":0.4365,"v":7.94e5},{"z":0.4345,"v":2e6},{"z":0.4360,"v":5.62e6},{"z":0.4340,"v":1.58e7},
{"z":0.4375,"v":5.62e4},{"z":0.4405,"v":1.78e5},{"z":0.4385,"v":5.01e5},{"z":0.4415,"v":1.26e6},{"z":0.4395,"v":3.55e6},{"z":0.4410,"v":1e7},{"z":0.4390,"v":3.16e7},
{"z":0.4425,"v":5.01e4},{"z":0.4455,"v":1.58e5},{"z":0.4435,"v":4.47e5},{"z":0.4465,"v":1.26e6},{"z":0.4445,"v":3.16e6},{"z":0.4460,"v":8.91e6},{"z":0.4440,"v":2.82e7},
{"z":0.4475,"v":8.91e4},{"z":0.4505,"v":2.82e5},{"z":0.4485,"v":7.94e5},{"z":0.4515,"v":2e6},{"z":0.4495,"v":5.62e6},{"z":0.4510,"v":1.58e7},{"z":0.4490,"v":5.62e7},
{"z":0.4525,"v":3.98e4},{"z":0.4555,"v":1.26e5},{"z":0.4535,"v":3.98e5},{"z":0.4565,"v":1e6},{"z":0.4545,"v":2.51e6},{"z":0.4560,"v":7.08e6},{"z":0.4540,"v":2e7},
{"z":0.4575,"v":7.94e4},{"z":0.4605,"v":2.51e5},{"z":0.4585,"v":7.08e5},{"z":0.4615,"v":1.78e6},{"z":0.4595,"v":5.01e6},{"z":0.4610,"v":1.41e7},{"z":0.4590,"v":4.47e7},
{"z":0.4625,"v":6.31e4},{"z":0.4655,"v":2e5},{"z":0.4635,"v":5.62e5},{"z":0.4665,"v":1.58e6},{"z":0.4645,"v":3.98e6},{"z":0.4660,"v":1.12e7},{"z":0.4640,"v":3.55e7},
{"z":0.4675,"v":1.12e5},{"z":0.4705,"v":3.55e5},{"z":0.4685,"v":1e6},{"z":0.4715,"v":2.51e6},{"z":0.4695,"v":7.08e6},{"z":0.4710,"v":2e7},{"z":0.4690,"v":7.08e7},
{"z":0.4725,"v":5.01e4},{"z":0.4755,"v":1.58e5},{"z":0.4735,"v":5.01e5},{"z":0.4765,"v":1.26e6},{"z":0.4745,"v":3.16e6},{"z":0.4760,"v":8.91e6},{"z":0.4740,"v":2.51e7},
{"z":0.4775,"v":1e5},{"z":0.4805,"v":3.16e5},{"z":0.4785,"v":8.91e5},{"z":0.4815,"v":2.24e6},{"z":0.4795,"v":6.31e6},{"z":0.4810,"v":1.78e7},{"z":0.4790,"v":5.62e7},
{"z":0.4825,"v":7.94e4},{"z":0.4855,"v":2.51e5},{"z":0.4835,"v":7.08e5},{"z":0.4865,"v":2e6},{"z":0.4845,"v":5.01e6},{"z":0.4860,"v":1.41e7},{"z":0.4840,"v":4.47e7},
{"z":0.4875,"v":1.41e5},{"z":0.4905,"v":4.47e5},{"z":0.4885,"v":1.26e6},{"z":0.4915,"v":3.16e6},{"z":0.4895,"v":8.91e6},{"z":0.4910,"v":2.51e7},{"z":0.4890,"v":8.91e7},
{"z":0.4925,"v":6.31e4},{"z":0.4955,"v":2e5},{"z":0.4935,"v":6.31e5},{"z":0.4965,"v":1.58e6},{"z":0.4945,"v":3.98e6},{"z":0.4960,"v":1.12e7},{"z":0.4940,"v":3.16e7},
{"z":0.4975,"v":1.26e5},{"z":0.4995,"v":3.98e5},{"z":0.4985,"v":1.12e6},{"z":0.4990,"v":2.82e6},{"z":0.4980,"v":7.94e6},{"z":0.4992,"v":2.24e7},{"z":0.4978,"v":7.08e7}
]
},
"encoding":{
"y":{"field":"v","type":"quantitative","scale":{"type":"log","domain":[0.1,1000000000],"nice":false},
"axis":{"title":"Localization in 99% C.L. [Mpc³]","values":[0.1,10,1000,100000,10000000,1000000000],"labelExpr":"datum.value < 1 ? '10⁻¹' : datum.value < 100 ? '10¹' : datum.value < 10000 ? '10³' : datum.value < 1000000 ? '10⁵' : datum.value < 100000000 ? '10⁷' : '10⁹'","titlePadding":5}}
},
"layer":[
{"data":{"name":"pts"},
"mark":{"type":"circle","color":"#ff00ff","opacity":1,"size":18},
"encoding":{"x":{"field":"z","type":"quantitative","scale":{"domain":[0,0.5],"nice":false},"axis":{"title":"Redshift","values":[0,0.1,0.2,0.3,0.4,0.5],"format":".1f","titlePadding":3}}}},
{"data":{"name":"lines"},
"mark":{"type":"rule","strokeWidth":1.2},
"encoding":{
"color":{"field":"label","type":"nominal","sort":null,"scale":{"domain":["n_g = 0.01 Mpc⁻³, V_th = 100 Mpc³","n_g = 0.02 Mpc⁻³, V_th = 50 Mpc³","n_g = 0.2 Mpc⁻³, V_th = 5 Mpc³","n_g = 1 Mpc⁻³, V_th = 1 Mpc³"],"range":["#7878ff","#f29090","#ffc860","#88c488"]},"legend":{"title":null}},
"strokeDash":{"field":"label","type":"nominal","sort":null,"scale":{"domain":["n_g = 0.01 Mpc⁻³, V_th = 100 Mpc³","n_g = 0.02 Mpc⁻³, V_th = 50 Mpc³","n_g = 0.2 Mpc⁻³, V_th = 5 Mpc³","n_g = 1 Mpc⁻³, V_th = 1 Mpc³"],"range":[[1,0],[1.2,1.8],[2.5,1.5],[4,1.5,1,1.5]]},"legend":{"title":null}}
}}
]
}
